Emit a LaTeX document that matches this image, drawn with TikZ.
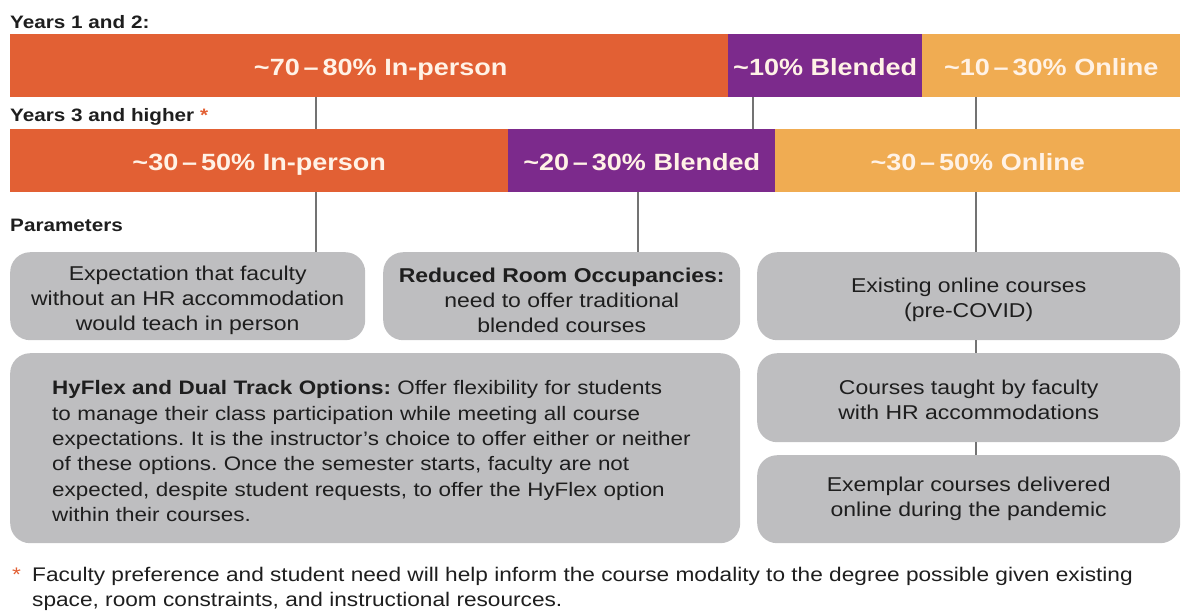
\documentclass[tikz,border=0pt]{standalone}
\usepackage{fontspec}
\setmainfont{Liberation Sans}[FakeStretch=1.15]
\frenchspacing
\begin{document}
\definecolor{inperson}{RGB}{226,96,52}
\definecolor{blended}{RGB}{124,42,140}
\definecolor{online}{RGB}{240,172,82}
\definecolor{boxgray}{RGB}{190,190,192}
\definecolor{linkgray}{RGB}{115,115,115}
\definecolor{bartext}{RGB}{255,242,230}
\definecolor{bodytext}{RGB}{30,30,30}
\newcommand{\tl}{\textasciitilde}
\newcommand{\rng}{\,–\,}
% invisible strut that lowers a centred text block a little
\newcommand{\lowerby}[1]{\rule{0pt}{#1}}
\begin{tikzpicture}[x=1pt,y=-1pt,
  bar/.style={anchor=north west, inner sep=0pt, text=bartext,
    text height=19pt, text depth=0pt,
    font=\fontsize{23.5}{28}\selectfont\bfseries},
  heading/.style={anchor=base west, inner sep=0pt, text=bodytext,
    font=\fontsize{18}{22}\selectfont\bfseries},
  param/.style={anchor=north west, fill=boxgray, rounded corners=20pt, inner sep=0pt,
    align=center, text=bodytext, font=\fontsize{20}{25}\selectfont},
  note/.style={anchor=base west, inner sep=0pt, text=bodytext,
    font=\fontsize{19.7}{25}\selectfont},
  link/.style={draw=linkgray, line width=1.2pt}]
\useasboundingbox (0,0) rectangle (1190,611);

% headings
\node[heading] (h1) at (10,28) {Years 1 and 2:};
\node[heading] (h2) at (10,121) {Years 3 and higher \textcolor{inperson}{*}};
\node[heading] (h3) at (10,231) {Parameters};

% years 1 and 2
\node[bar, fill=inperson, minimum width=718pt, minimum height=63pt] (ip1) at (10,34) {\hspace*{23pt}\tl70\rng80\% In-person};
\node[bar, fill=blended, minimum width=194pt, minimum height=63pt] (bl1) at (728,34) {\tl10\% Blended};
\node[bar, fill=online, minimum width=258pt, minimum height=63pt] (on1) at (922,34) {\tl10\rng30\% Online};

% years 3 and higher
\node[bar, fill=inperson, minimum width=498pt, minimum height=63pt] (ip2) at (10,129) {\tl30\rng50\% In-person};
\node[bar, fill=blended, minimum width=267pt, minimum height=63pt] (bl2) at (508,129) {\tl20\rng30\% Blended};
\node[bar, fill=online, minimum width=405pt, minimum height=63pt] (on2) at (775,129) {\tl30\rng50\% Online};

% parameters
\node[param, minimum width=355pt, minimum height=88pt] (p1) at (10,252)
  {\lowerby{22pt}Expectation that faculty\\without an HR accommodation\\would teach in person};
\node[param, minimum width=357pt, minimum height=88pt] (p2) at (383,252)
  {\lowerby{22pt}\textbf{Reduced Room Occupancies:}\\need to offer traditional\\blended courses};
\node[param, minimum width=423pt, minimum height=88pt] (p3) at (757,252)
  {\lowerby{22pt}Existing online courses\\(pre-COVID)};
\node[param, text width=646pt, inner xsep=42pt, minimum height=190pt, align=left,
      font=\fontsize{19.5}{25.3}\selectfont] (p4) at (10,353)
  {\lowerby{20pt}\mbox{\textbf{HyFlex and Dual Track Options:} Offer flexibility for students}\\
   \mbox{to manage their class participation while meeting all course}\\
   \mbox{expectations. It is the instructor’s choice to offer either or neither}\\
   \mbox{of these options. Once the semester starts, faculty are not}\\
   \mbox{expected, despite student requests, to offer the HyFlex option}\\
   \mbox{within their courses.}};
\node[param, minimum width=423pt, minimum height=89pt] (p5) at (757,353)
  {\lowerby{19pt}Courses taught by faculty\\with HR accommodations};
\node[param, minimum width=423pt, minimum height=88pt] (p6) at (757,455)
  {Exemplar courses delivered\\online during the pandemic};

% footnote
\node[note] (fn1) at (12,581)
  {\makebox[20pt][l]{\textcolor{inperson}{*}}Faculty preference and student need will help inform the course modality to the degree possible given existing};
\node[note] (fn2) at (32,606)
  {space, room constraints, and instructional resources.};

% connectors
\coordinate (xa) at (316,0);
\coordinate (xb) at (753,0);
\coordinate (xc) at (976,0);
\coordinate (xd) at (638,0);
\draw[link] (ip1.south -| xa) -- (ip2.north -| xa);
\draw[link] (bl1.south -| xb) -- (bl2.north -| xb);
\draw[link] (on1.south -| xc) -- (on2.north -| xc);
\draw[link] (ip2.south -| xa) -- (p1.north -| xa);
\draw[link] (bl2.south -| xd) -- (p2.north -| xd);
\draw[link] (on2.south -| xc) -- (p3.north -| xc);
\draw[link] (p3.south -| xc) -- (p5.north -| xc);
\draw[link] (p5.south -| xc) -- (p6.north -| xc);
\end{tikzpicture}
\end{document}
